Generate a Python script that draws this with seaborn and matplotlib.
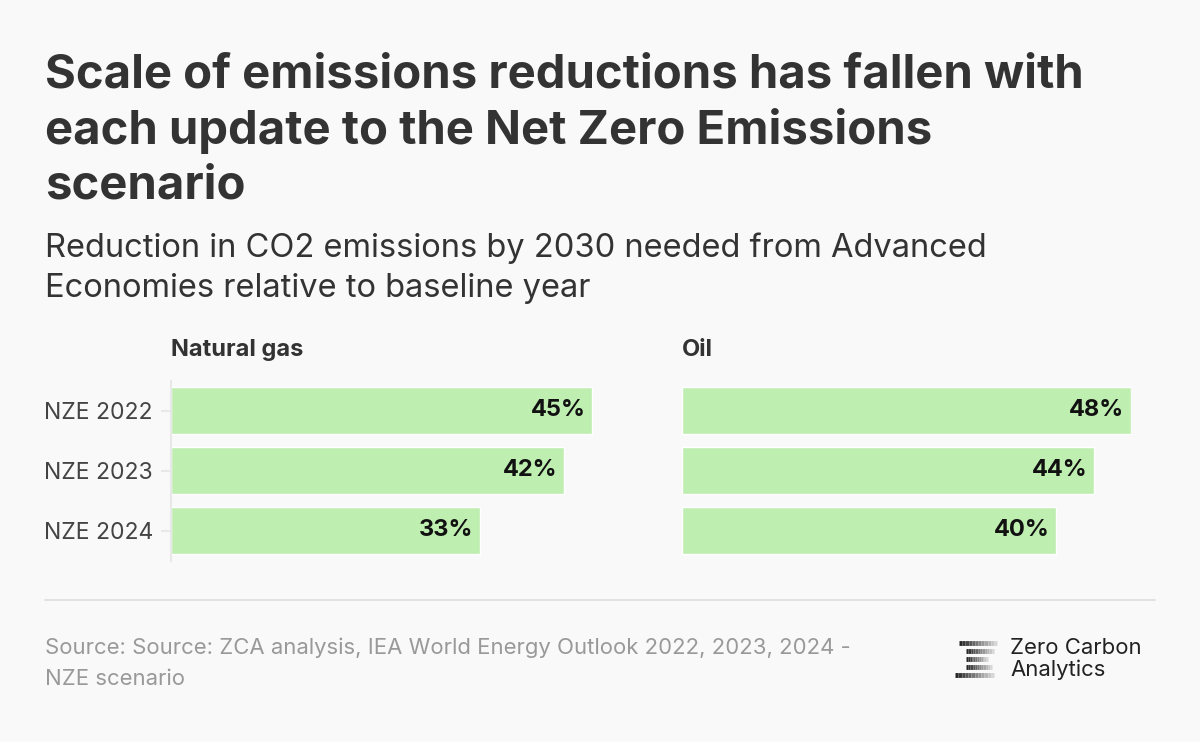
import matplotlib
matplotlib.use("Agg")
import matplotlib.pyplot as plt
import seaborn as sns
import numpy as np
import pandas as pd

# data
scenarios = ["NZE 2022", "NZE 2023", "NZE 2024"]
gas_cut = [45, 42, 33]
oil_cut = [48, 44, 40]
panel_titles = ["Natural gas", "Oil"]

title = "Scale of emissions reductions has fallen with\neach update to the Net Zero Emissions\nscenario"
subtitle = "Reduction in CO2 emissions by 2030 needed from Advanced\nEconomies relative to baseline year"
source = "Source: Source: ZCA analysis, IEA World Energy Outlook 2022, 2023, 2024 -\nNZE scenario"

sns.set_theme(style="white")
plt.rcParams["font.family"] = ["Inter", "DejaVu Sans"]

BG = "#f9f9f9"
BAR = "#bfeeb1"
W, H = 1200, 742

fig = plt.figure(figsize=(12, 7.42), dpi=100, facecolor=BG)

def px(x0, y0, w, h):
    # pixel box (top-left origin) -> figure fraction
    return [x0 / W, 1 - (y0 + h) / H, w / W, h / H]

fig.text(45 / W, 1 - 54 / H, title, fontsize=34, fontweight="bold",
         color="#333333", va="top", ha="left", linespacing=1.29)
fig.text(45 / W, 1 - 232 / H, subtitle, fontsize=23.5, color="#333333",
         va="top", ha="left", linespacing=1.4)

df = pd.DataFrame({"scenario": scenarios, "Natural gas": gas_cut, "Oil": oil_cut})

lefts = [171, 682]
for k, (name, x0) in enumerate(zip(panel_titles, lefts)):
    ax = fig.add_axes(px(x0, 380.5, 449, 180))
    ax.set_facecolor(BG)
    sns.barplot(data=df, x=name, y="scenario", ax=ax, color=BAR,
                saturation=1, width=0.78)
    ax.set_xlim(0, 48)
    ax.set_ylim(2.5, -0.5)
    ax.set_xlabel("")
    ax.set_ylabel("")
    ax.set_xticks([])
    for s in ["top", "right", "bottom"]:
        ax.spines[s].set_visible(False)
    for i, v in enumerate(df[name]):
        ax.text(v - 0.7, i, f"{v}%", ha="right", va="center",
                fontsize=17, fontweight="bold", color="#111111")
    if k == 0:
        ax.spines["left"].set_color("#e8e8e8")
        ax.spines["left"].set_linewidth(1.5)
        ax.tick_params(axis="y", length=7, width=1.5, color="#e8e8e8",
                       labelsize=16.5, labelcolor="#444444", pad=6, left=True)
    else:
        ax.spines["left"].set_visible(False)
        ax.set_yticks([])
    fig.text(x0 / W, 1 - 350 / H, name, fontsize=17, fontweight="bold",
             color="#333333", va="center", ha="left")

# separator line
fig.add_artist(plt.Line2D([45 / W, 1155 / W], [1 - 600 / H, 1 - 600 / H],
                          color="#dddddd", lw=1.2))

fig.text(45 / W, 1 - 638 / H, source, fontsize=15.9, color="#999999",
         va="top", ha="left", linespacing=1.68)

# logo: stacked fading bars + wordmark
bars = [(959, 997, 643), (966, 994, 651), (966, 988, 659), (966, 992, 667), (955, 994, 675)]
for xa, xb, yy in bars:
    n = 12
    xs = np.linspace(xa, xb, n + 1)
    for j in range(n):
        shade = 0.15 + 0.75 * j / n
        fig.add_artist(plt.Line2D([xs[j] / W, xs[j + 1] / W], [1 - yy / H] * 2,
                                  color=str(shade), lw=3.5, solid_capstyle="butt"))
fig.text(1010 / W, 1 - 659 / H, "Zero Carbon\nAnalytics", fontsize=15.9,
         color="#222222", va="center", ha="left", linespacing=1.08)

fig.savefig("out.png", dpi=100, facecolor=BG)
